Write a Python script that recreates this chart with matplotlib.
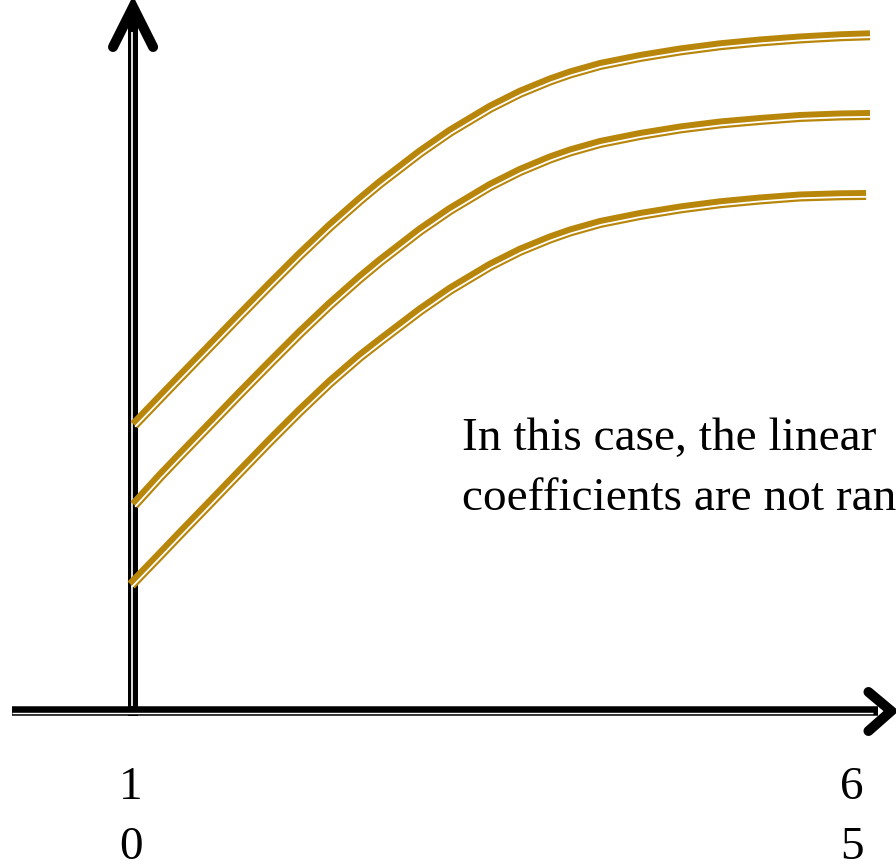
import matplotlib
matplotlib.use("Agg")
import matplotlib.pyplot as plt
from matplotlib.transforms import offset_copy

# ---------------- data ----------------
x_common = [10.23, 12.21, 13.74, 16.03, 18.31, 20.60, 22.89, 25.18, 27.47,
            28.99, 32.05, 34.33, 37.39, 39.67, 41.96, 43.49, 45.78, 48.83,
            51.88, 54.93, 57.98, 61.03, 64.09, 66.37]
x_bottom = [10.00, 12.21, 13.74, 16.03, 18.31, 20.60, 22.89, 25.18, 27.47,
            28.99, 32.05, 34.33, 37.39, 39.67, 41.96, 43.49, 45.78, 48.83,
            51.88, 54.93, 57.98, 61.03, 64.09, 66.07]
y_top = [2.86, 3.13, 3.338, 3.647, 3.956, 4.262, 4.562, 4.847, 5.111, 5.277,
         5.585, 5.792, 6.032, 6.182, 6.305, 6.375, 6.46, 6.54, 6.605, 6.657,
         6.695, 6.725, 6.747, 6.757]
y_middle = [2.06, 2.345, 2.555, 2.865, 3.175, 3.48, 3.78, 4.065, 4.33, 4.495,
            4.805, 5.01, 5.25, 5.40, 5.525, 5.595, 5.68, 5.76, 5.825, 5.875,
            5.91, 5.94, 5.955, 5.96]
y_bottom = [1.26, 1.56, 1.77, 2.08, 2.39, 2.70, 3.00, 3.285, 3.545, 3.70,
            4.005, 4.212, 4.452, 4.602, 4.725, 4.795, 4.88, 4.96, 5.025, 5.077,
            5.115, 5.145, 5.157, 5.16]

xtick_pos = [10, 65]
xtick_labels = ["1\n0", "6\n5"]

note_lines = ["In this case, the linear", "coefficients are not random"]

# ---------------- styling ----------------
GOLD = "#b8860b"
PX = 0.72  # points per pixel at dpi 100
FONT = ["Liberation Serif", "DejaVu Serif"]

fig = plt.figure(figsize=(8.96, 8.66), dpi=100)
ax = fig.add_axes([0, 0, 1, 1])
ax.set_xlim(0, 68.35)
ax.set_ylim(-1.55, 7.11)
ax.axis("off")

axis_x = 10.15   # position of the drawn vertical axis
axis_y = 0.0     # position of the drawn horizontal axis

# vertical axis (double line)
ax.plot([axis_x, axis_x], [-0.05, 6.98], color="black", lw=10 * PX,
        solid_capstyle="butt", zorder=2)
ax.plot([axis_x, axis_x], [0.05, 6.79], color="white", lw=1.7 * PX,
        solid_capstyle="butt", zorder=3,
        transform=offset_copy(ax.transData, fig=fig, x=-1.5, y=0, units="dots"))

# horizontal axis (double line)
ax.plot([0.92, 67.0], [axis_y, axis_y], color="black", lw=9.5 * PX,
        solid_capstyle="butt", zorder=4)
ax.plot([0.92, 66.6], [axis_y, axis_y], color="white", lw=1.4 * PX,
        solid_capstyle="butt", zorder=5,
        transform=offset_copy(ax.transData, fig=fig, x=0, y=-2.2, units="dots"))

# arrow heads (open chevrons)
ax.plot([8.62, axis_x, 11.68], [6.64, 7.04, 6.64], color="black",
        lw=10 * PX, solid_capstyle="round", solid_joinstyle="miter", zorder=6)
ax.plot([66.25, 67.98, 66.25], [0.19, axis_y, -0.20], color="black",
        lw=10 * PX, solid_capstyle="round", solid_joinstyle="miter", zorder=6)

# curves: thick gold stroke with a thin white inner gap
white_tr = offset_copy(ax.transData, fig=fig, x=1.0, y=-1.8, units="dots")
for xs, ys in [(x_common, y_top), (x_common, y_middle), (x_bottom, y_bottom)]:
    ax.plot(xs, ys, color=GOLD, lw=10 * PX, solid_capstyle="butt",
            solid_joinstyle="round", zorder=7)
    ax.plot(xs, ys, color="white", lw=1.8 * PX, solid_capstyle="butt",
            solid_joinstyle="round", zorder=8, transform=white_tr)

# tick labels (each character on its own line)
for xp, lab in zip(xtick_pos, xtick_labels):
    for i, line in enumerate(lab.split("\n")):
        ax.text(xp, -0.88 - 0.60 * i, line, ha="center", va="baseline",
                fontsize=34, family=FONT, color="black")

# note text
for i, line in enumerate(note_lines):
    ax.text(35.25, 2.61 - 0.60 * i, line, ha="left", va="baseline",
            fontsize=34, family=FONT, color="black", clip_on=False)

fig.savefig("out.png", dpi=100)
